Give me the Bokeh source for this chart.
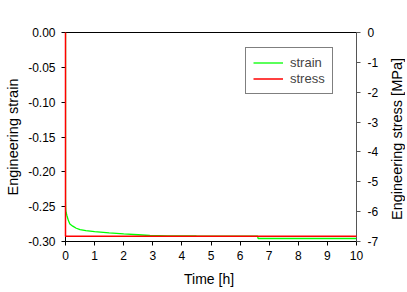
from bokeh.plotting import figure
from bokeh.layouts import row
from bokeh.models import Range1d, LinearAxis, FixedTicker, PrintfTickFormatter, Legend, LegendItem
from bokeh.embed import file_html
from bokeh.resources import INLINE

# data
time_strain = [0.0, 0.0, 0.005, 0.01, 0.02, 0.05, 0.1, 0.15, 0.25, 0.37, 0.5, 0.7, 1.0, 1.5, 2.0, 2.5, 2.9, 3.5, 4.5, 5.5, 6.6, 6.62, 7.5, 8.5, 10.0]
strain = [0.0, -0.24, -0.25, -0.2548, -0.258, -0.263, -0.27, -0.275, -0.278, -0.281, -0.283, -0.2845, -0.2857, -0.2875, -0.289, -0.2903, -0.2914, -0.2918, -0.2921, -0.2922, -0.2923, -0.2957, -0.2957, -0.2957, -0.2957]
time_stress = [0.0, 0.0, 10.0]
stress = [0.0, -6.82, -6.82]

x_ticks = [0, 1, 2, 3, 4, 5, 6, 7, 8, 9, 10]
strain_ticks = [0.0, -0.05, -0.10, -0.15, -0.20, -0.25, -0.30]
stress_ticks = [0, -1, -2, -3, -4, -5, -6, -7]

FONT = "Liberation Sans"

p = figure(width=383, height=290, output_backend="svg", toolbar_location=None,
           x_range=Range1d(0, 10), y_range=Range1d(-0.30, 0.0),
           min_border_left=65, min_border_right=27, min_border_top=32, min_border_bottom=49)
p.extra_y_ranges = {"stress": Range1d(-7, 0)}

p.grid.visible = False
p.outline_line_color = "black"
p.outline_line_width = 1
p.background_fill_color = "white"
p.border_fill_color = "white"

g = p.line(time_strain, strain, line_color="#00ff00", line_width=1.3)
r = p.line(time_stress, stress, line_color="#ff0000", line_width=1.5, y_range_name="stress",
           level="overlay")

def style(ax, fmt, ticks):
    ax.ticker = FixedTicker(ticks=ticks)
    ax.formatter = PrintfTickFormatter(format=fmt)
    ax.minor_tick_line_color = None
    ax.major_tick_in = 0
    ax.major_tick_out = 4
    ax.major_label_text_font = FONT
    ax.major_label_text_font_size = "12px"
    ax.major_label_text_color = "black"
    ax.axis_label_text_font = FONT
    ax.axis_label_text_font_size = "14.5px"
    ax.axis_label_text_font_style = "normal"
    ax.axis_label_text_color = "black"
    ax.axis_line_color = "black"
    ax.major_tick_line_color = "black"

xa = p.xaxis[0]
style(xa, "%d", x_ticks)
xa.axis_label = "Time  [h]"
xa.axis_label_text_font_size = "14px"
xa.major_label_standoff = 5
xa.axis_label_standoff = 8

ya = p.yaxis[0]
style(ya, "%.2f", strain_ticks)
ya.axis_label = "Engineering strain"
ya.major_label_standoff = 6
ya.axis_label_standoff = 4

ra = LinearAxis(y_range_name="stress")
style(ra, "%d", stress_ticks)
ra.major_label_standoff = 7
ra.axis_line_color = "#555555"
ra.major_tick_line_color = "#555555"
p.add_layout(ra, "right")

legend = Legend(items=[LegendItem(label="strain", renderers=[g]),
                       LegendItem(label="stress", renderers=[r])],
                location=(180, 147))
legend.border_line_color = "black"
legend.border_line_width = 1
legend.background_fill_alpha = 1
legend.label_text_font = FONT
legend.label_text_font_size = "13px"
legend.glyph_width = 30
legend.glyph_height = 13
legend.label_height = 13
legend.label_standoff = 7
legend.spacing = 1
legend.padding = 7
legend.margin = 0
p.add_layout(legend)

# narrow companion figure that only carries the right-hand axis title (reads bottom-to-top)
p2 = figure(width=22, height=290, output_backend="svg", toolbar_location=None,
            x_range=Range1d(0, 1), y_range=Range1d(-7, 0),
            min_border_left=21, min_border_right=0, min_border_top=32, min_border_bottom=49)
p2.grid.visible = False
p2.outline_line_color = None
p2.background_fill_color = "white"
p2.border_fill_color = "white"
p2.xaxis.visible = False
ta = p2.yaxis[0]
ta.ticker = FixedTicker(ticks=[])
ta.minor_tick_line_color = None
ta.major_tick_line_color = None
ta.major_tick_in = 0
ta.major_tick_out = 0
ta.major_label_standoff = 0
ta.axis_line_color = None
ta.axis_label = "Engineering stress  [MPa]"
ta.axis_label_standoff = 0
ta.axis_label_text_font = FONT
ta.axis_label_text_font_size = "14.5px"
ta.axis_label_text_font_style = "normal"
ta.axis_label_text_color = "black"

layout = row(p, p2, spacing=0)
open("out.html", "w").write(file_html(layout, INLINE))
